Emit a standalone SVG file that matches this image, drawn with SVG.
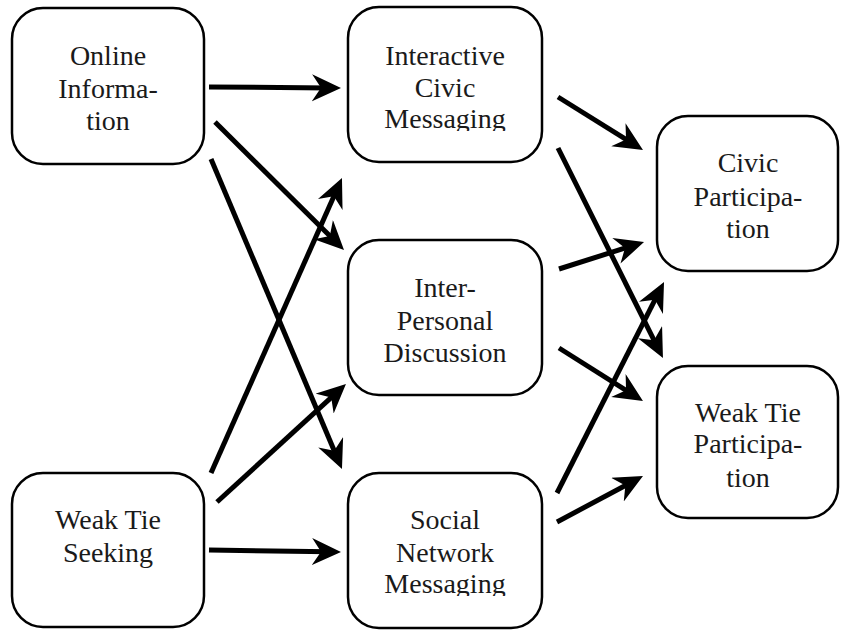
<svg xmlns="http://www.w3.org/2000/svg" width="841" height="630" viewBox="0 0 841 630">
<style>
.box{fill:#fff;stroke:#000;stroke-width:2.5}
.lbl{font-size:28px;fill:#1a1a1a;text-anchor:middle}
.arr{stroke:#000;stroke-width:5;fill:none;marker-end:url(#head)}
</style>
<defs>
<marker id="head" markerUnits="userSpaceOnUse" markerWidth="30" markerHeight="28" viewBox="0 0 30 28" refX="17" refY="13.5" orient="auto">
<path d="M0,0 L29,13.5 L0,27 L9,13.5 Z" fill="#000"/>
</marker>
<clipPath id="clipA"><rect x="348" y="0" width="194" height="131"/></clipPath>
<clipPath id="clipB"><rect x="348" y="460" width="194" height="136"/></clipPath>
</defs>
<g id="online-information">
<rect class="box" x="12" y="8" width="192" height="156" rx="31"/>
<text class="lbl" x="108" y="65" style="font-family:'Liberation Serif',serif">Online</text>
<text class="lbl" x="108" y="98" style="font-family:'Liberation Serif',serif">Informa-</text>
<text class="lbl" x="108" y="130" style="font-family:'Liberation Serif',serif">tion</text>
</g>
<g id="weak-tie-seeking">
<rect class="box" x="12" y="473" width="192" height="154" rx="31"/>
<text class="lbl" x="108" y="529" style="font-family:'Liberation Serif',serif">Weak Tie</text>
<text class="lbl" x="108" y="562" style="font-family:'Liberation Serif',serif">Seeking</text>
</g>
<g id="interactive-civic-messaging">
<rect class="box" x="348" y="7" width="194" height="155" rx="31"/>
<g clip-path="url(#clipA)">
<text class="lbl" x="445" y="65" style="font-family:'Liberation Serif',serif">Interactive</text>
<text class="lbl" x="445" y="97" style="font-family:'Liberation Serif',serif">Civic</text>
<text class="lbl" x="445" y="128" style="font-family:'Liberation Serif',serif">Messaging</text>
</g>
</g>
<g id="inter-personal-discussion">
<rect class="box" x="348" y="240" width="194" height="155" rx="31"/>
<text class="lbl" x="445" y="297" style="font-family:'Liberation Serif',serif">Inter-</text>
<text class="lbl" x="445" y="330" style="font-family:'Liberation Serif',serif">Personal</text>
<text class="lbl" x="445" y="362" style="font-family:'Liberation Serif',serif">Discussion</text>
</g>
<g id="social-network-messaging">
<rect class="box" x="348" y="473" width="194" height="155" rx="31"/>
<g clip-path="url(#clipB)">
<text class="lbl" x="445" y="529" style="font-family:'Liberation Serif',serif">Social</text>
<text class="lbl" x="445" y="562" style="font-family:'Liberation Serif',serif">Network</text>
<text class="lbl" x="445" y="593" style="font-family:'Liberation Serif',serif">Messaging</text>
</g>
</g>
<g id="civic-participation">
<rect class="box" x="657" y="116" width="181" height="155" rx="31"/>
<text class="lbl" x="748" y="172" style="font-family:'Liberation Serif',serif">Civic</text>
<text class="lbl" x="748" y="206" style="font-family:'Liberation Serif',serif">Participa-</text>
<text class="lbl" x="748" y="238" style="font-family:'Liberation Serif',serif">tion</text>
</g>
<g id="weak-tie-participation">
<rect class="box" x="657" y="366" width="181" height="152" rx="31"/>
<text class="lbl" x="748" y="422" style="font-family:'Liberation Serif',serif">Weak Tie</text>
<text class="lbl" x="748" y="453" style="font-family:'Liberation Serif',serif">Participa-</text>
<text class="lbl" x="748" y="487" style="font-family:'Liberation Serif',serif">tion</text>
</g>
<g id="connectors">
<line class="arr" x1="209" y1="87" x2="329" y2="87.9"/>
<line class="arr" x1="215" y1="122" x2="335.5" y2="241.6"/>
<line class="arr" x1="211" y1="159" x2="337.3" y2="458"/>
<line class="arr" x1="211" y1="473" x2="337.1" y2="189"/>
<line class="arr" x1="217" y1="502" x2="337.1" y2="392.1"/>
<line class="arr" x1="209" y1="550" x2="329" y2="551.8"/>
<line class="arr" x1="558" y1="97" x2="632.8" y2="143.7"/>
<line class="arr" x1="558" y1="148" x2="657.6" y2="347.3"/>
<line class="arr" x1="559" y1="269" x2="632.6" y2="245.6"/>
<line class="arr" x1="559" y1="348" x2="632.8" y2="394.6"/>
<line class="arr" x1="557" y1="493" x2="658.6" y2="292.7"/>
<line class="arr" x1="557" y1="522" x2="632.4" y2="481.7"/>
</g>
</svg>
